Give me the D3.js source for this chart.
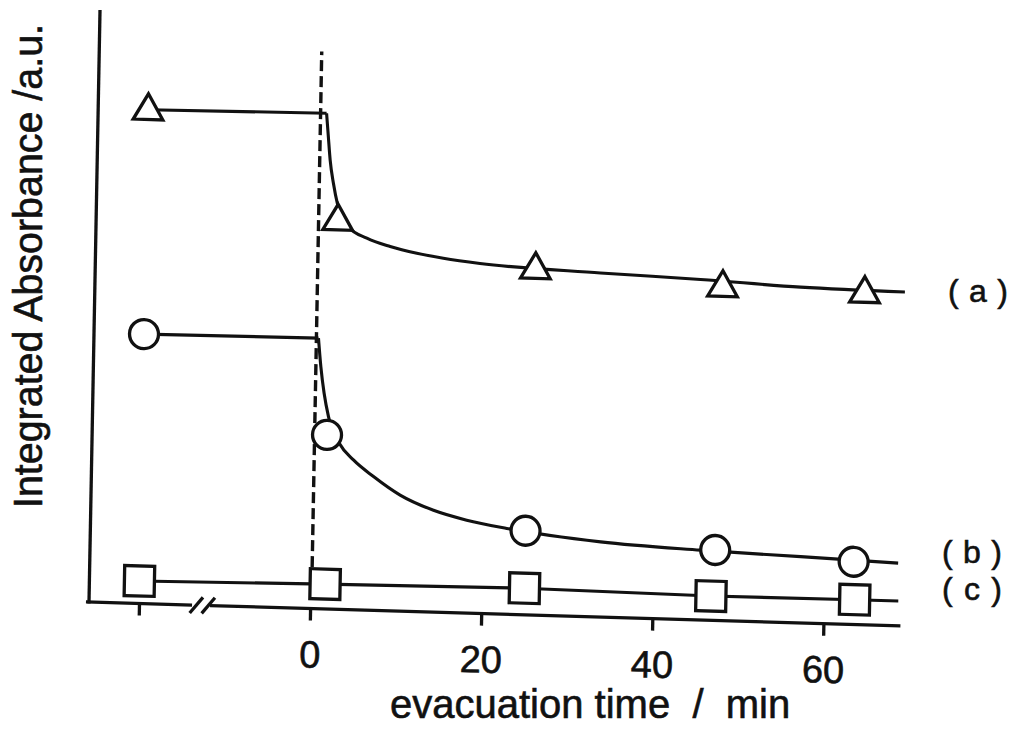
<!DOCTYPE html>
<html>
<head>
<meta charset="utf-8">
<script src="https://cdn.jsdelivr.net/npm/d3@7"></script>
<style>
  html, body { margin: 0; padding: 0; background: #fff; }
  svg { display: block; }
  text { font-family: "Liberation Sans", Arial, Helvetica, sans-serif; fill: #111; stroke: #111; stroke-width: 0.6px; }
</style>
</head>
<body>
<div id="chart"></div>
<script>
// ---- data ----
const tickValues = [-20, 0, 20, 40, 60];
const tickLabels = ["", "0", "20", "40", "60"];
const seriesLabels = ["(a)", "(b)", "(c)"];
const xLabel = "evacuation time  /  min";
const yLabel = "Integrated Absorbance /a.u.";

// measured points (markers)
const timeA  = [-20, 2.4, 25.6, 47.5, 64.1];
const valueA = [8.32, 6.55, 5.83, 5.62, 5.59];
const timeB  = [-20, 1.6, 25.0, 47.2, 63.4];
const valueB = [4.55, 2.94, 1.42, 1.19, 1.06];
const timeC  = [-20, 1.7, 25.0, 46.8, 63.6];
const valueC = [0.38, 0.42, 0.45, 0.41, 0.42];

// hand-drawn guide curves
const preTimeA = [-20, 0.85];
const preValueA = [8.34, 8.37];
const traceTimeA  = [0.85, 1.11, 1.37, 1.80, 2.31, 2.85, 3.65, 5.82, 8.57, 11.7, 14.8, 19.1, 33.2, 44.9, 56.6, 68.8];
const traceValueA = [8.37, 7.97, 7.58, 7.19, 6.85, 6.63, 6.46, 6.28, 6.15, 6.05, 5.98, 5.91, 5.81, 5.75, 5.67, 5.64];

const preTimeB = [-20, 0.39];
const preValueB = [4.55, 4.57];
const traceTimeB  = [0.39, 0.73, 1.17, 1.73, 3.07, 4.74, 7.12, 10.27, 14.2, 18.1, 22.8, 33.8, 45.5, 57.2, 68.6];
const traceValueB = [4.57, 4.09, 3.64, 3.25, 2.80, 2.53, 2.26, 1.96, 1.72, 1.57, 1.45, 1.27, 1.18, 1.12, 1.06];

const traceTimeC  = [-20, 1.7, 25.0, 46.8, 63.6, 68.7];
const traceValueC = [0.38, 0.42, 0.45, 0.41, 0.42, 0.42];

// vertical dashed marker at start of evacuation
const dashTime = 0.15;
const dashRange = [0.70, 9.41];

// axis extents / break (in data units)
const xAxisExtent = [-26.2, 69.0];
const breakGap = [-13.8, -11.7];
const breakMarks = [-13.3, -11.9];
const yAxisExtent = [0, 10];

// ---- drawing ----
const W = 1013, H = 737;
const svg = d3.select("#chart").append("svg").attr("width", W).attr("height", H);
svg.append("rect").attr("width", W).attr("height", H).attr("fill", "#fff");

const x = d3.scaleLinear().domain([0, 60]).range([221.1, 734.4]);
const y = d3.scaleLinear().domain([0, 10]).range([0, -592]);

// the scanned figure is slightly skewed; reproduce with an affine transform
const plot = svg.append("g").attr("transform", "matrix(1,0.0295,-0.0186,1,89,602)");

const ink = "#111";
const lw = 3.3;

// x axis with ticks
const axis = plot.append("g")
  .call(d3.axisBottom(x).tickValues(tickValues)
    .tickFormat((d, i) => tickLabels[i]).tickSize(12).tickPadding(20).tickSizeOuter(0));
axis.select(".domain").remove();
axis.selectAll(".tick line").attr("stroke", ink).attr("stroke-width", lw);
axis.selectAll(".tick text").attr("fill", ink)
  .style("font-size", "38px").style("font-family", '"Liberation Sans", Arial, sans-serif');

// axis baseline with break
const lineGen = d3.line().x(d => x(d[0])).y(d => y(d[1]));
plot.append("path").attr("d", lineGen([[xAxisExtent[0], 0], [breakGap[0], 0]]))
  .attr("stroke", ink).attr("stroke-width", lw).attr("fill", "none");
plot.append("path").attr("d", lineGen([[breakGap[1], 0], [xAxisExtent[1], 0]]))
  .attr("stroke", ink).attr("stroke-width", lw).attr("fill", "none");
breakMarks.forEach(b => {
  const cx = x(b);
  plot.append("line").attr("x1", cx - 6.5).attr("y1", 8).attr("x2", cx + 6.5).attr("y2", -8)
    .attr("stroke", ink).attr("stroke-width", lw);
});

// y axis
plot.append("line")
  .attr("x1", 0).attr("x2", 0).attr("y1", y(yAxisExtent[0]) + 1.5).attr("y2", y(yAxisExtent[1]))
  .attr("stroke", ink).attr("stroke-width", lw);

// dashed line
plot.append("line")
  .attr("x1", x(dashTime)).attr("x2", x(dashTime))
  .attr("y1", y(dashRange[0])).attr("y2", y(dashRange[1]))
  .attr("stroke", ink).attr("stroke-width", 3.4).attr("stroke-dasharray", "11,5");

// curves
const zip = (a, b) => a.map((v, i) => [v, b[i]]);
const smooth = d3.line().x(d => x(d[0])).y(d => y(d[1])).curve(d3.curveMonotoneX);
const straight = d3.line().x(d => x(d[0])).y(d => y(d[1]));

function drawPath(gen, pts) {
  plot.append("path").attr("d", gen(pts)).attr("fill", "none")
    .attr("stroke", ink).attr("stroke-width", 3.1).attr("stroke-linejoin", "round");
}
drawPath(straight, zip(preTimeA, preValueA));
drawPath(smooth, zip(traceTimeA, traceValueA));
drawPath(straight, zip(preTimeB, preValueB));
drawPath(smooth, zip(traceTimeB, traceValueB));
drawPath(straight, zip(traceTimeC, traceValueC));

// markers
function drawMarkers(type, size, ts, vs) {
  plot.selectAll(null).data(zip(ts, vs)).enter().append("path")
    .attr("d", d3.symbol().type(type).size(size)())
    .attr("transform", d => `translate(${x(d[0])},${y(d[1])})`)
    .attr("fill", "#fff").attr("stroke", ink).attr("stroke-width", lw);
}
drawMarkers(d3.symbolTriangle, 380, timeA, valueA);
drawMarkers(d3.symbolCircle, 660, timeB, valueB);
drawMarkers(d3.symbolSquare, 900, timeC, valueC);

// series labels
const labelPos = [[948, 302], [942, 563], [942, 600]];
svg.selectAll(null).data(seriesLabels).enter().append("text")
  .attr("x", (d, i) => labelPos[i][0]).attr("y", (d, i) => labelPos[i][1])
  .attr("textLength", 60).attr("lengthAdjust", "spacing")
  .style("font-size", "32px")
  .text(d => d);

// axis titles
svg.append("text").attr("x", 390).attr("y", 718)
  .style("font-size", "40px").style("white-space", "pre")
  .text(xLabel);

svg.append("text")
  .attr("transform", "translate(42,266) rotate(-90)")
  .attr("text-anchor", "middle")
  .attr("textLength", 484).attr("lengthAdjust", "spacingAndGlyphs")
  .style("font-size", "40px")
  .text(yLabel);
</script>
</body>
</html>
